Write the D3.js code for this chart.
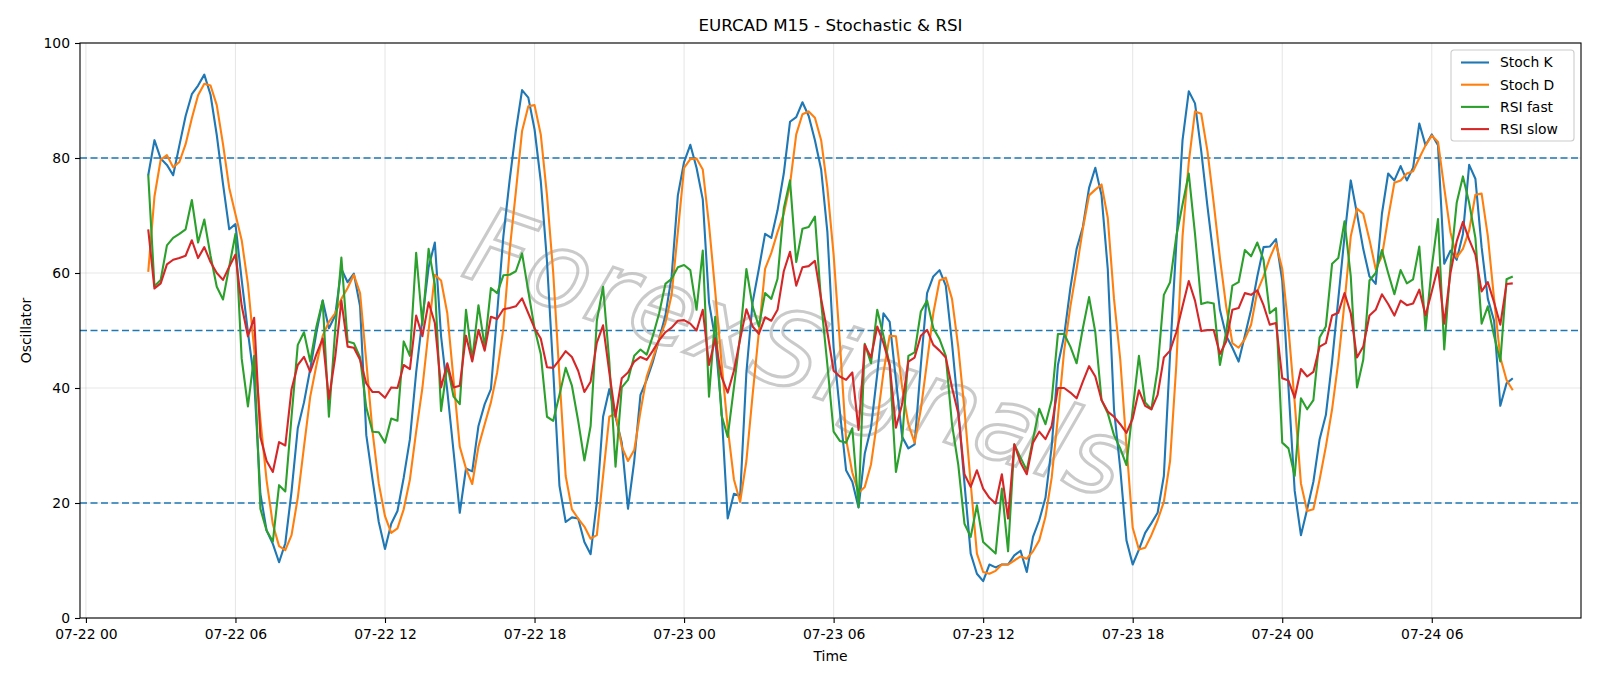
<!DOCTYPE html>
<html>
<head>
<meta charset="utf-8">
<script src="https://cdn.jsdelivr.net/npm/d3@7"></script>
<style>
body { margin: 0; background: #fff; }
svg { display: block; font-family: "DejaVu Sans", sans-serif; }
</style>
</head>
<body>
<svg width="1600" height="686"></svg>
<script>
// first bar 07-22 02:30, one value every 15 minutes
var startTime = Date.UTC(2025, 6, 22, 2, 30)
var stepMinutes = 15

var stochK = [
  77, 83.1, 79.9, 78.8, 77, 82.2, 87.3, 91.1, 92.6, 94.5,
  91, 84, 75.5, 67.6, 68.5, 58.8, 49.7, 41.4, 21.6, 15.2,
  12.9, 9.7, 13, 22, 33, 37.5, 43.3, 49.7, 55.2, 50.4,
  52.6, 60.7, 58.4, 59.9, 54.2, 31.8, 24.1, 16.7, 12, 16.4,
  18.6, 24.4, 31.1, 42.7, 52, 61, 65.3, 49, 39.5, 29,
  18.3, 26, 25.5, 33.4, 37.2, 39.8, 53, 66.4, 76.1, 84.7,
  91.8, 90.5, 85, 76, 62, 43, 23, 16.7, 17.5, 17.3,
  13.2, 11.1, 20.2, 35, 39.8, 35, 30.5, 19, 27.3, 38.8,
  41.4, 44.6, 48.5, 52.6, 59.4, 73.5, 79.3, 82.3, 78.3, 72.8,
  54.9, 48.5, 36.3, 17.3, 21.6, 21.2, 42.7, 54.9, 60.7, 66.8,
  66.1, 70.9, 77.3, 86.3, 87.1, 89.7, 87.3, 83.1, 78, 67.1,
  47, 36, 25.7, 23.7, 19.2, 28.6, 33.1, 42.4, 53, 51.5,
  41.4, 31.5, 29.5, 30.2, 44, 56.5, 59.4, 60.5, 57.8, 47.8,
  36.3, 23.4, 11.2, 7.7, 6.4, 9.3, 8.8, 9.3, 9.3, 10.9,
  11.7, 8, 14.1, 17, 20.9, 29.8, 44, 49.1, 57.4, 64.2,
  68, 74.8, 78.3, 73.5, 60.7, 36.3, 26, 13.5, 9.3, 11.9,
  14.8, 16.5, 18.3, 24.7, 45.9, 65.1, 83.1, 91.6, 89.5, 81.2,
  71.6, 62.6, 53.6, 49.1, 47, 44.6, 49.1, 53.6, 59.4, 64.5,
  64.6, 65.9, 58.7, 40.1, 22.1, 14.4, 18.9, 23.7, 31.1, 35.3,
  44.6, 55.5, 66.4, 76.1, 70.3, 64.2, 59.4, 58.1, 70.3, 77.3,
  76.1, 78.6, 76.1, 78.3, 86, 82.2, 84.1, 82.2, 61.6, 63.9,
  62.3, 66.8, 78.8, 76.4, 64.5, 55.5, 51.7, 36.9, 40.8, 41.7
]

var stochD = [
  60.2, 73.3, 79.7, 80.5, 78.4, 79.3, 82.4, 86.9, 90.9, 92.9,
  92.6, 89.2, 82.4, 74.8, 70.2, 65.7, 58.1, 46.7, 34.5, 23.9,
  16.3, 12.5, 11.8, 14.4, 20.9, 29.8, 38.5, 44, 49.1, 51.5,
  53, 55.5, 57.4, 59.7, 56.5, 44.6, 32.4, 23.4, 17.7, 14.8,
  15.6, 18.9, 24.1, 32.4, 40, 50, 59.7, 58.7, 53, 41.4,
  29.8, 26, 23.3, 29.8, 33.7, 37.5, 42.7, 50.4, 63.9, 74.1,
  84.7, 89, 89.2, 84.1, 73.5, 60, 42, 24.7, 18.9, 17.3,
  15.9, 13.8, 14.4, 24.7, 35, 35.6, 29.8, 27.3, 29.2, 35.9,
  42, 45.2, 48.5, 51.3, 56.2, 67.1, 78.3, 79.8, 79.9, 78,
  68.4, 56.8, 44.6, 33.1, 24.1, 20.2, 27.3, 38.8, 49.7, 60.7,
  63.5, 67.1, 70.3, 75.4, 84.1, 87.6, 88.1, 87, 83.1, 74.8,
  63.2, 48, 31.1, 25.3, 21.8, 22.8, 26.7, 34.3, 42.7, 49.1,
  49, 40.1, 33.7, 30.5, 36.3, 44.6, 53, 58.7, 59.2, 55.5,
  47.2, 36.3, 23.4, 11.2, 8, 7.7, 8.2, 9.3, 9.3, 10,
  10.7, 10.3, 11.6, 13.5, 17.6, 24.4, 35, 46.5, 54.2, 60.7,
  67.7, 73.5, 74.5, 75.4, 69.6, 55.5, 45, 30, 15.7, 11.9,
  12.2, 14.4, 17, 20.2, 27.3, 44, 66.4, 79.3, 88.1, 87.7,
  81.2, 72.2, 62.6, 54.2, 47.8, 47, 48.5, 51, 56.8, 59.4,
  62.6, 65.1, 60.7, 50.4, 37.5, 23.4, 18.6, 18.9, 24.1, 29.8,
  36.3, 44.6, 54.9, 66.4, 71.2, 70.3, 65.8, 60.7, 62.9, 69.6,
  75.7, 76.1, 77.3, 77.7, 80, 82.2, 83.9, 82.8, 74.8, 67.1,
  62.7, 64.2, 67.4, 73.6, 73.8, 66.4, 55.5, 45.3, 41.4, 39.6
]

var rsiFast = [
  77.1, 57.7, 58.8, 64.8, 66.1, 66.8, 67.6, 72.7, 65.3, 69.3,
  63, 57.6, 55.4, 61.1, 66.8, 45.1, 36.8, 45.6, 19, 15.2,
  13.3, 23.1, 22, 35, 47.5, 49.7, 44.6, 50.7, 55.2, 35,
  50, 62.7, 48.1, 47.8, 45.3, 36.6, 32.4, 32.3, 30.5, 34.7,
  34.3, 48.1, 45.6, 63.5, 51, 64.2, 58, 36, 44, 38.5,
  37.2, 53.6, 44.9, 54.4, 47.2, 57.4, 56.5, 59.6, 59.7, 60.3,
  63.4, 56.8, 50.4, 45.9, 35, 34.3, 38.8, 43.5, 40.4, 34.3,
  27.4, 33.4, 51.7, 57.6, 44.6, 26.3, 40.1, 41.4, 45.6, 46.7,
  45.8, 49.1, 53, 58.1, 59, 61, 61.4, 60.5, 53.6, 63.9,
  38.5, 52.4, 35.3, 31.5, 40.1, 49.1, 60.7, 54.2, 50.7, 56.5,
  55.5, 59, 71.2, 76.1, 61.9, 67.7, 68, 69.8, 54.9, 44,
  32.4, 30.8, 30.5, 33, 19.3, 47.7, 44.3, 53.6, 49.1, 44,
  25.4, 31.1, 45.6, 46.2, 53.3, 55.2, 50.4, 48.5, 45.6, 33.7,
  26.7, 16.4, 14.1, 19.6, 13.2, 12.2, 11.2, 22.5, 11.6, 30.2,
  27.9, 25.7, 31.1, 36.4, 33.7, 37.9, 49.4, 49.4, 47.2, 44.3,
  50.4, 55.8, 49.7, 37.9, 35.6, 31.8, 29.5, 26.6, 36.3, 45.6,
  37.5, 36.3, 43.3, 56.2, 58.4, 66.4, 71.9, 77.3, 66.8, 54.6,
  54.9, 54.7, 44, 49.7, 57.8, 58.4, 64, 62.9, 65.3, 62.3,
  53, 53.9, 30.5, 29.5, 24.7, 38.2, 36.3, 37.9, 48.8, 50.7,
  61.6, 62.6, 69, 59.4, 40.1, 44.9, 58.7, 60, 64, 60,
  56.3, 60.5, 58.2, 58.9, 64.6, 50.1, 61, 69.4, 46.7, 61.3,
  72.2, 76.8, 72.2, 66.1, 51.2, 54.2, 49.1, 44.6, 58.9, 59.4
]

var rsiSlow = [
  67.6, 57.3, 58.2, 61.5, 62.3, 62.6, 63, 65.7, 62.6, 64.5,
  61.9, 60, 58.8, 61.1, 63.2, 54.3, 49, 52.2, 31.5, 27.3,
  25.4, 30.6, 30, 39.8, 44, 45.4, 42.8, 45.9, 48.6, 38.1,
  45.3, 55.2, 47.2, 47, 44.9, 40.8, 39.3, 39.3, 38.3, 40.1,
  40, 44, 43.3, 52.6, 49, 54.9, 51.3, 40.1, 44.3, 40.1,
  40.4, 49.1, 44.6, 50.1, 46.5, 52.4, 52, 53.7, 53.9, 54.2,
  55.6, 53, 50.4, 48.6, 43.6, 43.5, 44.9, 46.4, 45.4, 43,
  39.3, 41.1, 47.9, 50.9, 42.7, 35, 41.7, 42.7, 44.6, 45.4,
  44.9, 46.5, 48.3, 49.7, 50.5, 51.7, 51.8, 51.2, 50, 53.6,
  44, 48.6, 42, 39.2, 43, 48.5, 53.7, 50.7, 49.4, 52.3,
  51.7, 53.6, 60.3, 63.7, 57.8, 61, 61.2, 62.1, 55.5, 49.7,
  43, 42, 41.4, 42.7, 32.7, 47.5, 45.3, 50.7, 47.8, 44,
  33.1, 37.2, 44.6, 45.3, 49.1, 50.1, 47.5, 46.5, 45.3, 40.1,
  35.6, 25, 22.8, 25.7, 22.5, 20.9, 19.9, 25, 17.3, 30.2,
  27, 25, 30.5, 32.4, 31.1, 33.4, 40, 40, 39.2, 38.2,
  41.1, 43.8, 42, 37.9, 35.9, 35, 33.7, 32.2, 34.7, 39.6,
  36.9, 36.3, 38.8, 45.3, 46.5, 49.7, 54.2, 58.6, 55.2, 49.9,
  50.1, 50.1, 45.9, 48.1, 53.6, 53.9, 56.5, 56.2, 57, 54.4,
  51, 51.3, 41.7, 41.3, 38.3, 43.3, 42, 42.8, 47.2, 47.8,
  52.6, 53.1, 56.5, 53, 45.3, 47.2, 52.6, 53.6, 56.3, 54.6,
  52.6, 55.2, 54.4, 54.7, 57.1, 52.6, 56.8, 61, 51.2, 60,
  65.5, 68.9, 65.8, 63.2, 56.8, 58.4, 54.9, 51, 58.1, 58.2
]

var seriesNames = ['Stoch K', 'Stoch D', 'RSI fast', 'RSI slow']
var seriesColors = ['#1f77b4', '#ff7f0e', '#2ca02c', '#d62728']
var levels = [20, 50, 80]
var yTicks = [0, 20, 40, 60, 80, 100]

var svg = d3.select('svg')
var plotLeft = 80, plotRight = 1581, plotTop = 43, plotBottom = 618

var times = stochK.map(function (d, i) {
  return new Date(startTime + i * stepMinutes * 60000)
})
var t0 = times[0].getTime(), t1 = times[times.length - 1].getTime()
var pad = (t1 - t0) * 0.05

var x = d3.scaleUtc()
  .domain([new Date(t0 - pad), new Date(t1 + pad)])
  .range([plotLeft, plotRight])
var y = d3.scaleLinear().domain([0, 100]).range([plotBottom, plotTop])

var xTicks = x.ticks(d3.utcHour.every(6))
var fmt = d3.utcFormat('%m-%d %H')

// grid
svg.append('g').selectAll('line').data(xTicks).enter().append('line')
  .attr('x1', function (d) { return x(d) }).attr('x2', function (d) { return x(d) })
  .attr('y1', plotTop).attr('y2', plotBottom)
  .style('stroke', '#b0b0b0').style('stroke-opacity', 0.3).style('stroke-width', 1.1)
svg.append('g').selectAll('line').data(yTicks).enter().append('line')
  .attr('x1', plotLeft).attr('x2', plotRight)
  .attr('y1', function (d) { return y(d) }).attr('y2', function (d) { return y(d) })
  .style('stroke', '#b0b0b0').style('stroke-opacity', 0.3).style('stroke-width', 1.1)

// watermark
svg.append('text')
  .attr('transform', 'translate(795,360) rotate(19)')
  .attr('text-anchor', 'middle')
  .attr('dominant-baseline', 'middle')
  .attr('textLength', 690)
  .style('font-size', '105px')
  .style('font-style', 'italic')
  .style('fill', 'none')
  .style('stroke', '#b4b4b4')
  .style('stroke-width', 3)
  .style('opacity', 0.7)
  .text('ForexSignals')

// reference levels
svg.append('g').selectAll('line').data(levels).enter().append('line')
  .attr('x1', plotLeft).attr('x2', plotRight)
  .attr('y1', function (d) { return y(d) }).attr('y2', function (d) { return y(d) })
  .style('stroke', '#1f77b4').style('stroke-width', 1.4)
  .style('stroke-dasharray', '7,3.5')

var line = d3.line()
  .x(function (d, i) { return x(times[i]) })
  .y(function (d) { return y(d) })

svg.append('g').selectAll('path')
  .data([stochK, stochD, rsiFast, rsiSlow])
  .enter()
  .append('path')
  .attr('d', line)
  .style('fill', 'none')
  .style('stroke', function (d, i) { return seriesColors[i] })
  .style('stroke-width', 2.1)
  .style('stroke-linejoin', 'round')

// axes
svg.append('g')
  .attr('transform', 'translate(0,' + plotBottom + ')')
  .call(d3.axisBottom(x).tickValues(xTicks).tickFormat(fmt).tickSize(5).tickPadding(6))
svg.append('g')
  .attr('transform', 'translate(' + plotLeft + ',0)')
  .call(d3.axisLeft(y).tickValues(yTicks).tickSize(5).tickPadding(5))
svg.selectAll('.domain').remove()
svg.selectAll('.tick text').style('font-size', '13.9px').style('font-family', 'DejaVu Sans').style('fill', '#000')
svg.selectAll('.tick line').style('stroke', '#000').style('stroke-width', 1.1)

svg.append('rect')
  .attr('x', plotLeft).attr('y', plotTop)
  .attr('width', plotRight - plotLeft).attr('height', plotBottom - plotTop)
  .style('fill', 'none').style('stroke', '#000').style('stroke-width', 1.1)

// labels
svg.append('text').attr('x', (plotLeft + plotRight) / 2).attr('y', 31)
  .attr('text-anchor', 'middle').style('font-size', '16.7px')
  .text('EURCAD M15 - Stochastic & RSI')
svg.append('text').attr('x', (plotLeft + plotRight) / 2).attr('y', 661)
  .attr('text-anchor', 'middle').style('font-size', '13.9px')
  .text('Time')
svg.append('text').attr('transform', 'translate(31,' + ((plotTop + plotBottom) / 2) + ') rotate(-90)')
  .attr('text-anchor', 'middle').style('font-size', '13.9px')
  .text('Oscillator')

// legend
var lg = svg.append('g').attr('transform', 'translate(1451,50)')
lg.append('rect').attr('width', 123).attr('height', 91).attr('rx', 3)
  .style('fill', '#fff').style('fill-opacity', 0.8)
  .style('stroke', '#cccccc').style('stroke-width', 1.1)
var items = lg.selectAll('g.item').data(seriesNames).enter().append('g')
  .attr('transform', function (d, i) { return 'translate(0,' + (12.5 + i * 22.2) + ')' })
items.append('line').attr('x1', 10).attr('x2', 38)
  .style('stroke', function (d, i) { return seriesColors[i] }).style('stroke-width', 2.1)
items.append('text').attr('x', 49).attr('dy', '0.35em')
  .style('font-size', '13.9px').text(function (d) { return d })
</script>
</body>
</html>
